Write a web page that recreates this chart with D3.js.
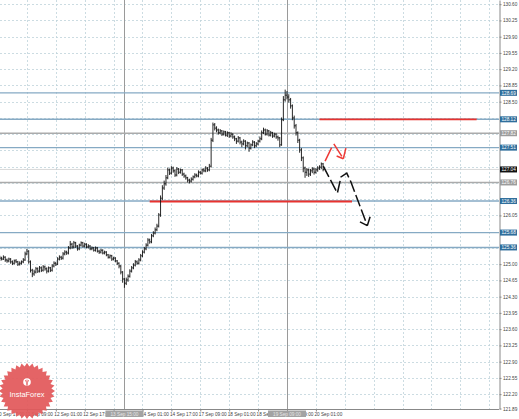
<!DOCTYPE html>
<html><head><meta charset="utf-8">
<script src="https://cdn.jsdelivr.net/npm/d3@7"></script>
<style>body{margin:0;background:#fff}svg{display:block}text{font-family:"Liberation Sans",Arial,sans-serif}</style>
</head><body><svg id="c" width="519" height="419"></svg>
<script>
// ---------- DATA ----------
const firstOpen = 125.10;
const closes = [
125.13,125.11,125.15,125.09,125.07,125.11,125.05,125.02,125.07,125.05,
125.00,125.02,125.05,125.09,125.22,125.28,125.05,124.87,124.79,124.83,
124.90,124.85,124.92,124.87,124.94,124.90,124.85,124.92,124.87,124.96,
125.02,125.00,125.11,125.15,125.13,125.22,125.26,125.24,125.35,125.43,
125.37,125.46,125.39,125.33,125.41,125.46,125.39,125.43,125.37,125.39,
125.33,125.35,125.30,125.35,125.28,125.26,125.30,125.24,125.26,125.20,
125.15,125.18,125.11,125.13,125.07,125.02,124.96,124.83,124.68,124.59,
124.66,124.74,124.85,124.92,124.98,125.05,125.02,125.09,125.18,125.26,
125.33,125.41,125.52,125.48,125.61,125.67,125.74,125.82,126.06,126.42,
126.64,126.73,126.86,127.03,126.96,127.07,127.01,126.92,127.05,126.98,
127.03,126.94,126.90,126.86,126.81,126.79,126.83,126.88,126.92,126.90,
126.98,126.96,127.03,127.01,127.07,127.03,127.11,127.67,128.00,127.93,
127.89,127.83,127.87,127.80,127.85,127.78,127.83,127.76,127.80,127.74,
127.70,127.65,127.72,127.63,127.59,127.65,127.55,127.61,127.50,127.57,
127.63,127.55,127.59,127.65,127.70,127.83,127.89,127.80,127.87,127.78,
127.83,127.76,127.80,127.74,127.72,127.57,128.11,128.54,128.64,128.60,
128.54,128.41,128.15,127.98,127.83,127.67,127.46,127.29,127.07,126.98,
127.03,126.94,127.01,127.05,126.98,127.03,127.07,127.09,127.16,127.04];
const highs = [
125.18,125.16,125.19,125.17,125.12,125.14,125.13,125.08,125.10,125.11,
125.07,125.06,125.08,125.13,125.27,125.33,125.30,125.08,124.90,124.88,
124.94,124.93,124.96,124.95,124.98,124.97,124.93,124.95,124.94,125.00,
125.06,125.05,125.15,125.19,125.18,125.26,125.30,125.29,125.39,125.50,
125.46,125.50,125.48,125.41,125.44,125.49,125.48,125.46,125.45,125.43,
125.41,125.38,125.37,125.38,125.37,125.31,125.33,125.32,125.29,125.28,
125.22,125.21,125.20,125.16,125.15,125.09,125.04,124.98,124.85,124.70,
124.71,124.78,124.89,124.96,125.02,125.09,125.08,125.13,125.22,125.30,
125.37,125.45,125.56,125.55,125.65,125.71,125.79,125.87,126.10,126.48,
126.70,126.80,126.92,127.08,127.06,127.11,127.10,127.04,127.09,127.07,
127.06,127.05,126.97,126.93,126.88,126.84,126.87,126.91,126.96,126.95,
127.02,127.01,127.06,127.07,127.11,127.09,127.16,127.72,128.05,128.04,
127.97,127.92,127.91,127.89,127.88,127.87,127.86,127.85,127.84,127.82,
127.77,127.72,127.76,127.74,127.66,127.69,127.67,127.64,127.63,127.60,
127.67,127.65,127.63,127.68,127.75,127.88,127.94,127.92,127.91,127.89,
127.87,127.85,127.83,127.82,127.77,127.74,128.16,128.62,128.76,128.73,
128.66,128.58,128.44,128.20,128.02,127.86,127.70,127.50,127.32,127.10,
127.07,127.06,127.05,127.09,127.08,127.07,127.11,127.13,127.19,127.18];
const lows = [
125.07,125.08,125.09,125.05,125.03,125.04,125.01,124.98,124.99,125.02,
124.96,124.97,124.99,125.02,125.07,125.19,125.01,124.82,124.72,124.75,
124.80,124.81,124.82,124.83,124.84,124.86,124.80,124.82,124.83,124.84,
124.93,124.96,124.98,125.08,125.09,125.10,125.19,125.20,125.21,125.32,
125.33,125.34,125.35,125.29,125.30,125.38,125.36,125.36,125.34,125.34,
125.30,125.30,125.27,125.27,125.25,125.22,125.23,125.21,125.21,125.17,
125.12,125.12,125.07,125.08,125.04,124.98,124.91,124.78,124.60,124.49,
124.55,124.62,124.71,124.82,124.89,124.95,124.99,124.99,125.06,125.15,
125.23,125.30,125.38,125.44,125.45,125.58,125.64,125.71,125.79,126.02,
126.38,126.60,126.69,126.83,126.92,126.93,126.97,126.88,126.89,126.94,
126.95,126.90,126.86,126.82,126.76,126.74,126.76,126.80,126.85,126.87,
126.87,126.93,126.93,126.98,126.98,126.99,127.00,127.08,127.63,127.88,
127.84,127.79,127.80,127.76,127.77,127.75,127.74,127.72,127.73,127.70,
127.65,127.59,127.62,127.58,127.52,127.56,127.47,127.52,127.42,127.47,
127.54,127.50,127.52,127.56,127.62,127.67,127.80,127.77,127.77,127.75,
127.75,127.72,127.73,127.70,127.66,127.52,127.55,128.08,128.50,128.55,
128.48,128.35,128.10,127.92,127.77,127.61,127.40,127.22,126.98,126.86,
126.90,126.88,126.90,126.96,126.93,126.95,126.99,127.03,127.05,127.00];

const timeLabels = ["10 Sep 17:00","11 Sep 09:00","12 Sep 01:00","12 Sep 17:00","13 Sep 09:00","14 Sep 01:00","14 Sep 17:00","17 Sep 09:00","18 Sep 01:00","18 Sep 17:00","19 Sep 09:00","20 Sep 01:00"];
const timeBars = [-1,15,31,47,63,79,95,111,127,143,159,175];
const priceTicks = [130.60,130.25,129.90,129.55,129.20,128.85,128.50,128.15,127.80,127.45,127.10,126.75,126.40,126.05,125.70,125.35,125.00,124.65,124.30,123.95,123.60,123.25,122.90,122.55,122.20];
const bottomPrice = 121.89;

const levelPrices = [128.69,128.12,127.82,127.51,126.76,126.36,125.68,125.36];
const levelKinds  = ["blue","blue","gray","blue","gray","blue","blue","blue"];
const currentPrice = 127.04;

const redLevels = [128.12, 126.35];
const redFrom = [177, 83];
const redTo = [264, 195];

const sepBars = [69, 159];
const sepLabels = ["13 Sep 15:00","19 Sep 09:00"];

const blackArrowBars = [179.1,186.9,188.9,192.1,194.3,203.5];
const blackArrowPrices = [127.11,126.53,126.88,126.96,126.78,125.83];
const blackBarbBars = [199.4,205.0];
const blackBarbPrices = [125.91,126.02];
const redArrowBars = [180.1,184.8,190.2];
const redArrowPrices = [127.22,127.60,127.27];
const redBarbBars = [186.5,191.6];
const redBarbPrices = [127.33,127.50];

// ---------- CHART ----------
const W=519,H=419, PR=499, PB=409;
const svg=d3.select('#c');
const x=d3.scaleLinear().domain([-1,275]).range([-2,496.5]);
const y=d3.scaleLinear().domain([121.88,130.69]).range([409,0]);
const snap=v=>Math.round(v)+0.5;

svg.append('rect').attr('width',W).attr('height',H).attr('fill','#fff');
svg.append('clipPath').attr('id','pc').append('rect').attr('x',0).attr('y',0).attr('width',PR).attr('height',PB);
const plot=svg.append('g').attr('clip-path','url(#pc)');

// grid
plot.selectAll('.hg').data(priceTicks).join('line')
  .attr('x1',0).attr('x2',PR).attr('y1',d=>snap(y(d))).attr('y2',d=>snap(y(d)))
  .attr('stroke','#bfd3da').attr('stroke-width',0.8).attr('stroke-dasharray','2,2');
const gridBars=d3.range(-1,276,16);
plot.selectAll('.vg').data(gridBars).join('line')
  .attr('x1',d=>snap(x(d))).attr('x2',d=>snap(x(d))).attr('y1',0).attr('y2',PB)
  .attr('stroke','#bfd3da').attr('stroke-width',0.8).attr('stroke-dasharray','2,2');

// separators
plot.selectAll('.sep').data(sepBars).join('line')
  .attr('x1',d=>snap(x(d))).attr('x2',d=>snap(x(d))).attr('y1',0).attr('y2',PB)
  .attr('stroke','#9a9a9a').attr('stroke-width',1);

// level lines
const lvColor={blue:'#86aac4',gray:'#ababab'};
plot.selectAll('.lv').data(levelPrices).join('line')
  .attr('x1',0).attr('x2',PR).attr('y1',d=>y(d)).attr('y2',d=>y(d))
  .attr('stroke',(d,i)=>lvColor[levelKinds[i]]).attr('stroke-width',1.4);
plot.append('line').attr('x1',0).attr('x2',PR).attr('y1',y(currentPrice)).attr('y2',y(currentPrice))
  .attr('stroke','#cfcfcf').attr('stroke-width',0.8);

// red lines
plot.selectAll('.rl').data(redLevels).join('line')
  .attr('x1',(d,i)=>x(redFrom[i])).attr('x2',(d,i)=>x(redTo[i]))
  .attr('y1',d=>y(d)).attr('y2',d=>y(d))
  .attr('stroke','#e8322f').attr('stroke-width',1.8);

// OHLC bars
const bars=closes.map((c,i)=>({i,o:i?closes[i-1]:firstOpen,c,h:highs[i],l:lows[i]}));
const bg=plot.append('g').attr('stroke','#111').attr('stroke-width',0.9);
bg.selectAll('.b').data(bars).join('line')
  .attr('x1',d=>x(d.i)).attr('x2',d=>x(d.i)).attr('y1',d=>y(d.h)).attr('y2',d=>y(d.l));
bg.selectAll('.o').data(bars).join('line')
  .attr('x1',d=>x(d.i)-0.9).attr('x2',d=>x(d.i)).attr('y1',d=>y(d.o)).attr('y2',d=>y(d.o));
bg.selectAll('.cl').data(bars).join('line')
  .attr('x1',d=>x(d.i)).attr('x2',d=>x(d.i)+0.9).attr('y1',d=>y(d.c)).attr('y2',d=>y(d.c));

// arrows
const ln=d3.line();
plot.append('path').attr('d',ln(blackArrowBars.map((b,i)=>[x(b),y(blackArrowPrices[i])])))
  .attr('fill','none').attr('stroke','#111').attr('stroke-width',1.5).attr('stroke-dasharray','12,3.5');
const bTip=[x(blackArrowBars[5]),y(blackArrowPrices[5])];
blackBarbBars.forEach((b,i)=>plot.append('line').attr('x1',bTip[0]).attr('y1',bTip[1])
  .attr('x2',x(b)).attr('y2',y(blackBarbPrices[i])).attr('stroke','#111').attr('stroke-width',1.5));
plot.append('path').attr('d',ln(redArrowBars.map((b,i)=>[x(b),y(redArrowPrices[i])])))
  .attr('fill','none').attr('stroke','#ee3a36').attr('stroke-width',1.5).attr('stroke-dasharray','15,5');
const rTip=[x(redArrowBars[2]),y(redArrowPrices[2])];
redBarbBars.forEach((b,i)=>plot.append('line').attr('x1',rTip[0]).attr('y1',rTip[1])
  .attr('x2',x(b)).attr('y2',y(redBarbPrices[i])).attr('stroke','#ee3a36').attr('stroke-width',1.5));

// axes (tick labels fully hidden behind level boxes are not drawn)
const FS=4.7;
const boxed=levelPrices.concat([currentPrice]);
const shownTicks=priceTicks.filter(t=>!boxed.some(b=>Math.abs(y(t)-y(b))<3.2)).concat([bottomPrice]);
const ya=svg.append('g').attr('transform',`translate(${PR+0.5},0)`)
  .call(d3.axisRight(y).tickValues(shownTicks).tickFormat(d3.format('.2f')).tickSize(2).tickSizeOuter(0).tickPadding(1.5));
ya.select('.domain').attr('stroke','#888');
ya.selectAll('.tick line').attr('stroke','#888');
ya.selectAll('text').attr('font-size',FS).attr('fill','#444').attr('font-family','Liberation Sans, Arial, sans-serif');

const xa=svg.append('g').attr('transform',`translate(0,${PB+0.5})`)
  .call(d3.axisBottom(x).tickValues(timeBars).tickFormat((d,i)=>timeLabels[i]).tickSize(2).tickSizeOuter(0).tickPadding(1.5));
xa.select('.domain').attr('stroke','#888').attr('d',`M0,0H${PR}`);
xa.selectAll('.tick line').attr('stroke','#888');
xa.selectAll('text').attr('font-size',FS).attr('fill','#444').attr('text-anchor','start').attr('dx',-2)
  .attr('font-family','Liberation Sans, Arial, sans-serif');

// right-axis boxes
const boxFill={blue:'#2f6e9c',gray:'#9c9c9c'};
const allBoxes=levelPrices.map((p,i)=>({p,f:boxFill[levelKinds[i]]})).concat([{p:currentPrice,f:'#111'}]);
const bx=svg.append('g');
bx.selectAll('rect').data(allBoxes).join('rect')
  .attr('x',PR+1).attr('y',d=>y(d.p)-3).attr('width',17).attr('height',6).attr('fill',d=>d.f);
bx.selectAll('text').data(allBoxes).join('text')
  .attr('x',PR+2.5).attr('y',d=>y(d.p)+1.7).attr('font-size',FS).attr('fill','#fff').text(d=>d.p.toFixed(2));

// bottom separator boxes
const sb=svg.append('g');
sb.selectAll('rect').data(sepBars).join('rect')
  .attr('x',d=>x(d)-19).attr('y',PB+1.5).attr('width',38).attr('height',6.5).attr('fill','#a3a3a3');
sb.selectAll('text').data(sepBars).join('text')
  .attr('x',d=>x(d)).attr('y',PB+6.6).attr('text-anchor','middle').attr('font-size',FS).attr('fill','#e6e6e6')
  .text((d,i)=>sepLabels[i]);

// InstaForex logo
const cx=27, cy=391, n=32, R1=28, R2=24.5;
const star=d3.range(n*2).map(k=>{const a=Math.PI*k/n - Math.PI/2; const r=k%2?R2:R1; return [cx+r*Math.cos(a), cy+r*Math.sin(a)];});
const logo=svg.append('g');
logo.append('path').attr('d',d3.line()(star)+'Z').attr('fill','#e2585a').attr('opacity',0.93);
logo.append('circle').attr('cx',cx).attr('cy',382).attr('r',3.8).attr('fill','#fff');
logo.append('path').attr('d',`M${cx-1.6},380 Q${cx},383 ${cx},385.5 M${cx+1.6},380 Q${cx},383 ${cx},385.5 M${cx},379.5 L${cx},382`)
  .attr('stroke','#e2585a').attr('stroke-width',0.8).attr('fill','none');
logo.append('text').attr('x',cx).attr('y',397).attr('text-anchor','middle').attr('font-size',7.4)
  .attr('fill','#fff').text('InstaForex');
</script></body></html>
